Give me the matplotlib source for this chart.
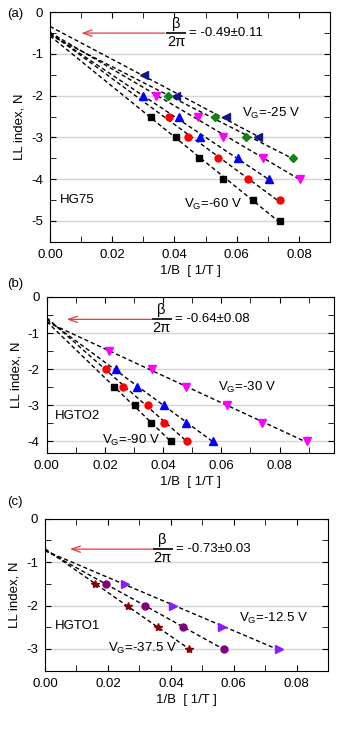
import numpy as np
import matplotlib
matplotlib.use("Agg")
import matplotlib.pyplot as plt
from matplotlib.ticker import MultipleLocator

plt.rcParams['font.family'] = ['Liberation Sans', 'DejaVu Sans']
plt.rcParams['mathtext.fontset'] = 'custom'
plt.rcParams['mathtext.rm'] = 'Liberation Sans'
plt.rcParams['mathtext.it'] = 'Liberation Sans'
plt.rcParams['font.size'] = 9

# ---- panel (a) HG75: 1/B [1/T] vs LL index ----
a_navy_x = [0.0301, 0.0405, 0.0565, 0.0667]
a_navy_y = [-1.5, -2.0, -2.5, -3.0]
a_green_x = [0.0379, 0.0530, 0.0629, 0.0782]
a_green_y = [-2.0, -2.5, -3.0, -3.5]
a_mag_x = [0.0341, 0.0477, 0.0557, 0.0686, 0.0803]
a_mag_y = [-2.0, -2.5, -3.0, -3.5, -4.0]
a_blue_x = [0.0299, 0.0414, 0.0482, 0.0603, 0.0704]
a_blue_y = [-2.0, -2.5, -3.0, -3.5, -4.0]
a_red_x = [0.0381, 0.0444, 0.0541, 0.0635, 0.0738]
a_red_y = [-2.5, -3.0, -3.5, -4.0, -4.5]
a_blk_x = [0.0325, 0.0405, 0.0479, 0.0556, 0.0651, 0.0739]
a_blk_y = [-2.5, -3.0, -3.5, -4.0, -4.5, -5.0]

# ---- panel (b) HGTO2 ----
b_mag_x = [0.0214, 0.0361, 0.0478, 0.0619, 0.0741, 0.0893]
b_mag_y = [-1.5, -2.0, -2.5, -3.0, -3.5, -4.0]
b_blue_x = [0.0238, 0.0309, 0.0403, 0.0478, 0.0573]
b_blue_y = [-2.0, -2.5, -3.0, -3.5, -4.0]
b_red_x = [0.0204, 0.0263, 0.0347, 0.0404, 0.0483]
b_red_y = [-2.0, -2.5, -3.0, -3.5, -4.0]
b_blk_x = [0.0231, 0.0303, 0.0357, 0.0426]
b_blk_y = [-2.5, -3.0, -3.5, -4.0]

# ---- panel (c) HGTO1 ----
c_vio_x = [0.0255, 0.0407, 0.0563, 0.0744]
c_vio_y = [-1.5, -2.0, -2.5, -3.0]
c_pur_x = [0.0193, 0.0318, 0.0437, 0.0568]
c_pur_y = [-1.5, -2.0, -2.5, -3.0]
c_star_x = [0.0158, 0.0263, 0.0360, 0.0456]
c_star_y = [-1.5, -2.0, -2.5, -3.0]

fig = plt.figure(figsize=(3.54, 7.29), dpi=100)


def series(ax, x, y, marker, color, ms):
    # dashed linear fit from 1/B = 0 to last point
    k, b = np.polyfit(x, y, 1)
    xx = np.array([0.0, max(x)])
    ax.plot(xx, k * xx + b, ls=(0, (3, 2)), color='black', lw=1.0, zorder=2)
    ax.plot(x, y, ls='none', marker=marker, color=color, mec=color, ms=ms, zorder=3)


def style(ax, xmax, ymin):
    ax.set_xlim(0, xmax)
    ax.set_ylim(ymin, 0)
    ax.xaxis.set_major_locator(MultipleLocator(0.02))
    ax.xaxis.set_minor_locator(MultipleLocator(0.01))
    ax.yaxis.set_major_locator(MultipleLocator(1))
    ax.yaxis.set_minor_locator(MultipleLocator(0.5))
    ax.xaxis.set_major_formatter(matplotlib.ticker.FormatStrFormatter('%.2f'))
    ax.yaxis.set_major_formatter(matplotlib.ticker.FormatStrFormatter('%d'))
    ax.tick_params(which='both', direction='in', top=True, right=True, labelsize=9.5, pad=5)
    ax.tick_params(which='major', length=4)
    ax.tick_params(which='minor', length=4)
    ax.grid(axis='y', which='major', color='#d4d4d4', lw=1.0)
    ax.set_axisbelow(True)
    ax.set_xlabel('1/B  [ 1/T ]', fontsize=9.5, labelpad=3)
    ax.set_ylabel('LL index, N', fontsize=9.5, labelpad=4)


def beta(ax, x0, x1, y, xt, val):
    ax.annotate('', xy=(x1, y), xytext=(x0, y),
                arrowprops=dict(arrowstyle='->, head_length=0.7, head_width=0.25',
                                color='#e83a3a', lw=0.9, shrinkA=0, shrinkB=0))
    # beta / 2 pi written as a stacked fraction
    ax.plot([xt], [y], marker='_', ms=14, mew=1.2, color='black', ls='none', zorder=4)
    ax.annotate('\u03b2', xy=(xt, y), xytext=(0, 1.5), textcoords='offset points',
                fontsize=10.5, ha='center', va='bottom')
    ax.annotate('2\u03c0', xy=(xt, y), xytext=(0, -1.5), textcoords='offset points',
                fontsize=10.5, ha='center', va='top')
    ax.annotate('= ' + val, xy=(xt, y), xytext=(9.5, 0), textcoords='offset points',
                fontsize=9.5, va='center', ha='left')


# (a)
ax1 = fig.add_axes([0.1412, 0.6685, 0.791, 0.3147])
series(ax1, a_navy_x, a_navy_y, '<', '#14148c', 5.5)
series(ax1, a_green_x, a_green_y, 'D', '#128212', 4.5)
series(ax1, a_mag_x, a_mag_y, 'v', '#ff00ff', 5.5)
series(ax1, a_blue_x, a_blue_y, '^', '#0000ff', 5.5)
series(ax1, a_red_x, a_red_y, 'o', '#ff0000', 5)
series(ax1, a_blk_x, a_blk_y, 's', '#000000', 4.5)
style(ax1, 0.09, -5.5)
beta(ax1, 0.0368, 0.0101, -0.5, 0.0405, '-0.49\u00b10.11')
ax1.text(0.0032, -4.5, 'HG75', va='center', fontsize=9.5)
ax1.text(0.0617, -2.42, r'V$_\mathregular{G}$=-25 V', va='center', fontsize=9.5)
ax1.text(0.0432, -4.6, r'V$_\mathregular{G}$=-60 V', va='center', fontsize=9.5)

# (b)
ax2 = fig.add_axes([0.1319, 0.379, 0.8116, 0.2136])
series(ax2, b_mag_x, b_mag_y, 'v', '#ff00ff', 5.5)
series(ax2, b_blue_x, b_blue_y, '^', '#0000ff', 5.5)
series(ax2, b_red_x, b_red_y, 'o', '#ff0000', 5)
series(ax2, b_blk_x, b_blk_y, 's', '#000000', 4.5)
style(ax2, 0.0987, -4.32)
beta(ax2, 0.0360, 0.0069, -0.62, 0.0395, '-0.64\u00b10.08')
ax2.text(0.0029, -3.3, 'HGTO2', va='center', fontsize=9.5)
ax2.text(0.0590, -2.5, r'V$_\mathregular{G}$=-30 V', va='center', fontsize=9.5)
ax2.text(0.0189, -3.97, r'V$_\mathregular{G}$=-90 V', va='center', fontsize=9.5)

# (c)
ax3 = fig.add_axes([0.1271, 0.080, 0.8003, 0.2084])
series(ax3, c_vio_x, c_vio_y, '>', '#8c1cff', 5.5)
series(ax3, c_pur_x, c_pur_y, 'o', '#800080', 5)
series(ax3, c_star_x, c_star_y, '*', '#8b0000', 6)
style(ax3, 0.09, -3.5)
beta(ax3, 0.0342, 0.0079, -0.70, 0.0374, '-0.73\u00b10.03')
ax3.text(0.0032, -2.48, 'HGTO1', va='center', fontsize=9.5)
ax3.text(0.0616, -2.3, r'V$_\mathregular{G}$=-12.5 V', va='center', fontsize=9.5)
ax3.text(0.0200, -2.99, r'V$_\mathregular{G}$=-37.5 V', va='center', fontsize=9.5)

fig.text(0.02, 1 - 14 / 729, '(a)', va='center', fontsize=9.5)
fig.text(0.02, 1 - 284 / 729, '(b)', va='center', fontsize=9.5)
fig.text(0.02, 1 - 502 / 729, '(c)', va='center', fontsize=9.5)

fig.savefig('out.png', dpi=100)
